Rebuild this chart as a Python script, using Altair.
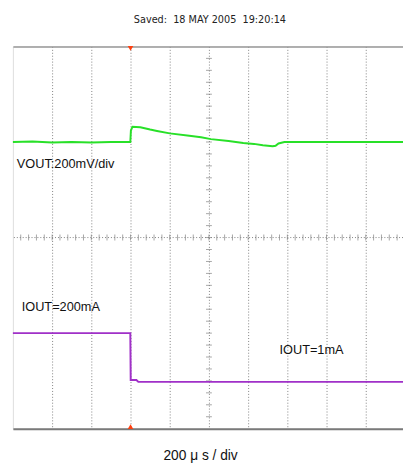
import altair as alt
import pandas as pd

# VOUT trace: time (µs) vs screen level (divisions from centre)
vout_t = [0, 100, 200, 300, 400, 500, 599, 602, 610, 650, 700, 735, 800, 900, 960,
          1010, 1100, 1175, 1230, 1275, 1300, 1325, 1340, 1355, 1385, 1500, 1700, 1990]
vout_v = [2.0, 2.01, 1.99, 2.0, 1.99, 2.0, 2.0, 2.24, 2.32, 2.31, 2.26, 2.23, 2.18, 2.13, 2.10,
          2.06, 2.02, 1.98, 1.96, 1.93, 1.92, 1.91, 1.92, 1.97, 2.0, 2.0, 2.0, 2.0]

# IOUT trace
iout_t = [0, 599, 601, 630, 640, 1990]
iout_v = [-2.0, -2.0, -2.98, -2.98, -3.02, -3.02]

# graticule
grid_x = [200, 400, 600, 800, 1000, 1200, 1400, 1600, 1800]
grid_y = [-3, -2, -1, 0, 1, 2, 3]
centre_y = [0]
minor_x = [i * 40 for i in range(1, 50)]
minor_y = [i * 0.25 for i in range(-15, 16)]
trigger_t = [600]

# annotations
label_text = ["VOUT:200mV/div", "IOUT=200mA", "IOUT=1mA"]
label_t = [20, 45, 1360]
label_v = [1.54, -1.46, -2.36]

title_text = "Saved:\u00a0 18 MAY 2005\u00a0 19:20:14"
xlabel_text = "200 μ s / div"

vout = pd.DataFrame({"t": vout_t, "v": vout_v})
iout = pd.DataFrame({"t": iout_t, "v": iout_v})
mx = pd.DataFrame({"t": minor_x, "v": [0] * len(minor_x)})
my = pd.DataFrame({"t": [1000] * len(minor_y), "v": minor_y})
trig = pd.DataFrame({"t": trigger_t, "top": [4], "bot": [-4]})
labels = pd.DataFrame({"text": label_text, "t": label_t, "v": label_v})
gx = pd.DataFrame({"t": grid_x, "v": [0] * len(grid_x)})
cy = pd.DataFrame({"v": centre_y})

xs = alt.Scale(domain=[0, 1990], nice=False, zero=False)
ys = alt.Scale(domain=[-4, 4], nice=False, zero=False)


def X(field="t"):
    return alt.X(f"{field}:Q", scale=xs, axis=None)


def Y(field="v"):
    return alt.Y(f"{field}:Q", scale=ys, axis=None)


grid_layer = alt.Chart(gx).mark_point(opacity=0).encode(
    x=alt.X("t:Q", scale=xs, axis=alt.Axis(
        orient="bottom", values=grid_x, grid=True, gridDash=[1, 2], gridColor="#808080",
        gridWidth=1, domain=True, domainColor="#7a7a7a", domainWidth=2, labels=False,
        ticks=False, title=xlabel_text, titleFontSize=14, titleFontWeight="normal",
        titleFont="Liberation Sans", titleColor="#111", titlePadding=20, titleX=191)),
    y=alt.Y("v:Q", scale=ys, axis=alt.Axis(
        orient="left", values=grid_y, grid=True, gridDash=[1, 2], gridColor="#808080",
        gridWidth=1, domain=True, domainColor="#7a7a7a", domainWidth=2, labels=False,
        ticks=False, title=None)),
)

top_layer = alt.Chart(gx).mark_point(opacity=0).encode(
    x=alt.X("t:Q", scale=xs, axis=alt.Axis(
        orient="top", grid=False, domain=True, domainColor="#9a9a9a", domainWidth=1.5,
        labels=False, ticks=False, title=None)),
    y=Y(),
)

centre_line = alt.Chart(cy).mark_rule(color="#808080", strokeWidth=1, strokeDash=[1, 2]).encode(
    y=Y())

tick_x = alt.Chart(mx).mark_tick(orient="vertical", size=6, thickness=1, color="#808080").encode(
    x=X(), y=Y())
tick_y = alt.Chart(my).mark_tick(orient="horizontal", size=6, thickness=1, color="#808080").encode(
    x=X(), y=Y())

vout_line = alt.Chart(vout).mark_line(color="#28E028", strokeWidth=2).encode(x=X(), y=Y())
iout_line = alt.Chart(iout).mark_line(color="#A030C8", strokeWidth=2).encode(x=X(), y=Y())

trig_top = alt.Chart(trig).mark_point(shape="triangle-down", filled=True, size=32,
                                      color="#FF4010", opacity=1, yOffset=2).encode(
    x=X(), y=Y("top"))
trig_bot = alt.Chart(trig).mark_point(shape="triangle-up", filled=True, size=32,
                                      color="#FF4010", opacity=1, yOffset=-2).encode(
    x=X(), y=Y("bot"))

text_layer = alt.Chart(labels).mark_text(align="left", baseline="middle", fontSize=13,
                                         font="Liberation Sans", color="#111").encode(
    x=X(), y=Y(), text="text:N")

chart = alt.layer(
    grid_layer, top_layer, centre_line, tick_x, tick_y, iout_line, vout_line,
    trig_top, trig_bot, text_layer
).properties(
    width=398, height=390,
    autosize=alt.AutoSizeParams(type="none"),
    padding={"left": 5, "top": 34.5, "right": 0, "bottom": 40},
    title=alt.TitleParams(title_text, fontSize=11, fontWeight="normal",
                          font="Liberation Sans Narrow, DejaVu Sans Condensed, sans-serif",
                          color="#222", offset=21, anchor="middle", dx=2),
).configure_view(fill="#F6FAF6", stroke=None).configure(background="white")

chart.save("out.html", embed_options={"renderer": "svg", "actions": False})
